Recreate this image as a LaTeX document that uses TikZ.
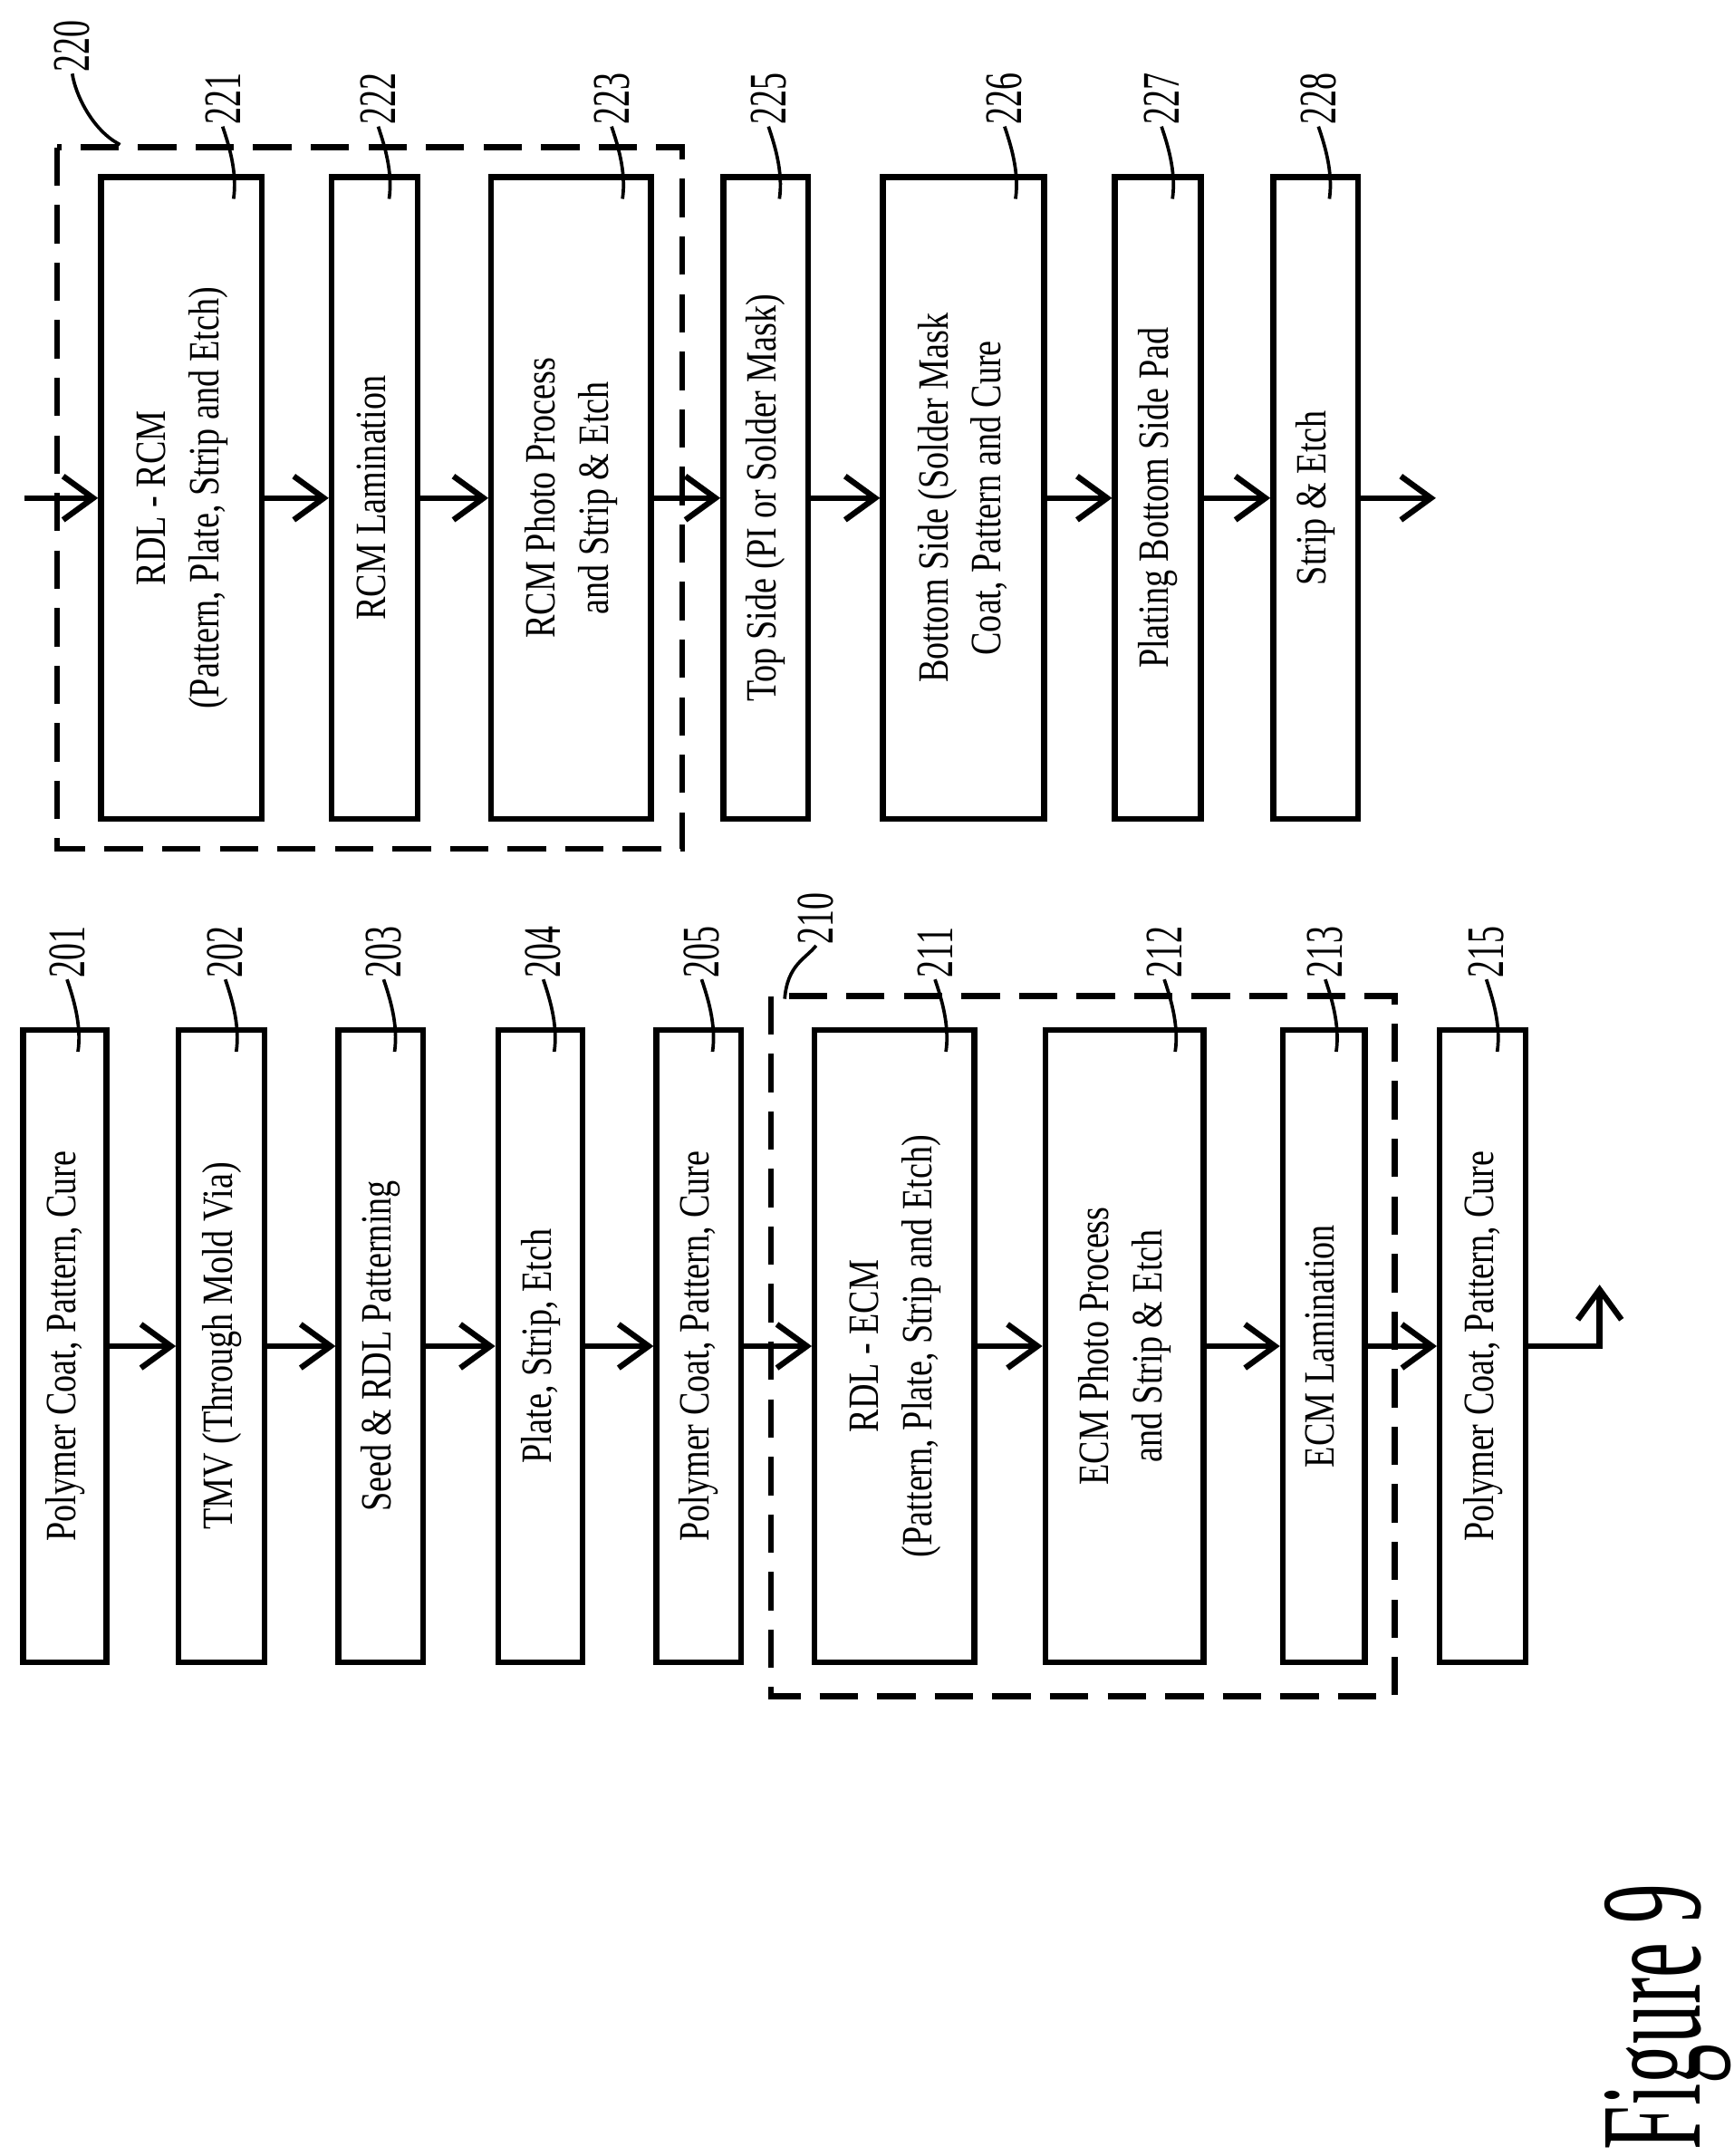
\documentclass[tikz,border=0pt]{standalone}
\usepackage{fontspec}
\setmainfont{Liberation Serif}
\usetikzlibrary{calc,arrows.meta}
\newcommand{\sqz}[1]{\scalebox{0.8}[1]{\begin{tabular}{@{}c@{}}#1\end{tabular}}}
\tikzset{
  box/.style={draw,line width=1.2pt,rotate=90,inner sep=0pt,minimum width=4.63cm,font=\fontsize{9}{11}\selectfont},
  grp/.style={draw,line width=1.2pt,dash pattern=on 8pt off 4pt},
  flow/.style={line width=1.2pt,-{Straight Barb[length=2.2mm,width=3.2mm]}},
  num/.style={rotate=90,anchor=west,inner sep=0pt,font=\fontsize{11}{11}\selectfont},
}
\newcommand{\numtxt}[1]{\scalebox{0.65}[1]{#1}}
\begin{document}
\begin{tikzpicture}[x=0.01cm,y=-0.01cm]
  \useasboundingbox (0,0) rectangle (1270,1580);
  % left column
  \node[box,minimum height=0.61cm] (b201) at (47.5,986.5) {\sqz{Polymer Coat, Pattern, Cure}};
  \node[box,minimum height=0.63cm] (b202) at (162.5,986.5) {\sqz{TMV (Through Mold Via)}};
  \node[box,minimum height=0.62cm] (b203) at (279,986.5) {\sqz{Seed \& RDL Patterning}};
  \node[box,minimum height=0.62cm] (b204) at (396,986.5) {\sqz{Plate, Strip, Etch}};
  \node[box,minimum height=0.62cm] (b205) at (512,986.5) {\sqz{Polymer Coat, Pattern, Cure}};
  \node[box,minimum height=1.17cm] (b211) at (655.5,986.5) {\sqz{RDL - ECM\\(Pattern, Plate, Strip and Etch)}};
  \node[box,minimum height=1.16cm] (b212) at (824,986.5) {\sqz{ECM Photo Process\\and Strip \& Etch}};
  \node[box,minimum height=0.60cm] (b213) at (970,986.5) {\sqz{ECM Lamination}};
  \node[box,minimum height=0.63cm] (b215) at (1086.5,986.5) {\sqz{Polymer Coat, Pattern, Cure}};
  \draw[grp] (565,730) rectangle (1022,1243);
  % right column
  \node[box,minimum height=1.18cm,minimum width=4.7cm] (b221) at (133,365) {\sqz{RDL - RCM\\(Pattern, Plate, Strip and Etch)}};
  \node[box,minimum height=0.63cm,minimum width=4.7cm] (b222) at (274.5,365) {\sqz{RCM Lamination}};
  \node[box,minimum height=1.17cm,minimum width=4.7cm] (b223) at (418.5,365) {\sqz{RCM Photo Process\\and Strip \& Etch}};
  \node[box,minimum height=0.62cm,minimum width=4.7cm] (b225) at (561,365) {\sqz{Top Side (PI or Solder Mask)}};
  \node[box,minimum height=1.18cm,minimum width=4.7cm] (b226) at (706,365) {\sqz{Bottom Side (Solder Mask\\Coat, Pattern and Cure}};
  \node[box,minimum height=0.63cm,minimum width=4.7cm] (b227) at (848.5,365) {\sqz{Plating Bottom Side Pad}};
  \node[box,minimum height=0.62cm,minimum width=4.7cm] (b228) at (964,365) {\sqz{Strip \& Etch}};
  \draw[grp] (42,108) rectangle (500,622);
  % arrows
  \foreach \a/\b in {201/202,202/203,203/204,204/205,205/211,211/212,212/213,213/215,
                     221/222,222/223,223/225,225/226,226/227,227/228}
    \draw[flow] (b\a.south) -- (b\b.north);
  \draw[flow] (b215.south) -- ++(52,0) -- ++(0,-45);
  \coordinate (in) at (18,365);
  \draw[flow] (in) -- (b221.north);
  \draw[flow] (b228.south) -- ++(55,0);
  % reference numbers
  \foreach \n in {201,202,203,204,205,211,212,213,215,221,222,223,225,226,227,228}
    \draw[line width=0.7pt] ($(b\n.south east)+(-23,18)$) .. controls +(3,-20) and +(4,12) .. ++(-8,-53)
      node[num] {\numtxt{\n}};
  \draw[line width=0.7pt] (575,732) .. controls +(2,-25) and +(-8,10) .. (598,693) node[num] {\numtxt{210}};
  \draw[line width=0.7pt] (88,106) .. controls +(-20,-10) and +(2,15) .. (53,54) node[num] {\numtxt{220}};
  \node[rotate=90,font=\fontsize{30}{30}\selectfont] (fig) at (1222,1478) {\scalebox{0.55}[1]{Figure 9}};
\end{tikzpicture}
\end{document}
